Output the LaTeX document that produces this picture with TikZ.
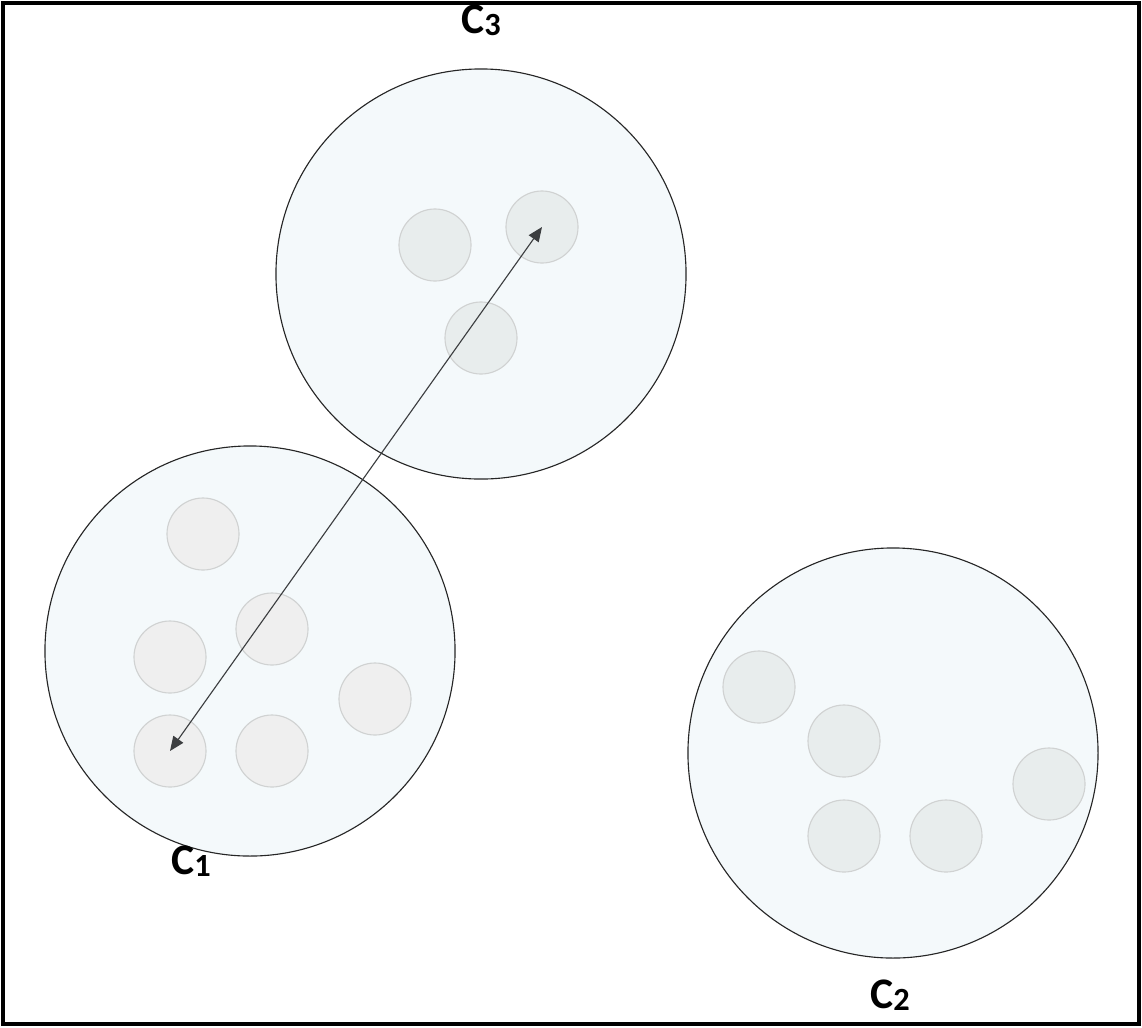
\documentclass[tikz,border=0pt]{standalone}
\usepackage{fontspec}
\setmainfont{Carlito}
\usetikzlibrary{arrows.meta, positioning}

\definecolor{clusterfill}{RGB}{244,249,251}
\definecolor{pointgray}{RGB}{239,239,239}
\definecolor{pointgreen}{RGB}{232,237,237}
\definecolor{pointline}{RGB}{208,210,210}
\definecolor{arrowgray}{RGB}{60,62,64}

\tikzset{
    cluster/.style={circle, draw=black!85, line width=0.8pt, fill=clusterfill, minimum size=10.25cm, inner sep=0pt},
    point/.style={circle, draw=pointline, line width=0.8pt, fill=#1, minimum size=1.8cm, inner sep=0pt},
    clabel/.style={font=\fontsize{31}{33}\selectfont\bfseries, inner sep=0pt}
}

\newcommand{\clname}[1]{C{\fontsize{23}{26}\selectfont\raisebox{-0.15ex}{#1}}}

\begin{document}
\begin{tikzpicture}[x=0.025cm, y=-0.025cm]
    \useasboundingbox (0,0) rectangle (1142,1027);
    \draw[line width=2.2pt] (3,3) rectangle (1139,1024);

    % clusters
    \node[cluster] (c3) at (481, 274) {};
    \node[cluster] (c1) at (250, 651) {};
    \node[cluster] (c2) at (893, 753) {};

    % points of C3
    \node[point=pointgreen] (p31) at (435, 245) {};
    \node[point=pointgreen] (p32) at (542, 227) {};
    \node[point=pointgreen] (p33) at (481, 338) {};

    % points of C1
    \node[point=pointgray] (p11) at (203, 534) {};
    \node[point=pointgray] (p12) at (272, 629) {};
    \node[point=pointgray] (p13) at (170, 657) {};
    \node[point=pointgray] (p14) at (375, 699) {};
    \node[point=pointgray] (p15) at (170, 751) {};
    \node[point=pointgray] (p16) at (272, 751) {};

    % points of C2
    \node[point=pointgreen] (p21) at (759, 687) {};
    \node[point=pointgreen] (p22) at (844, 741) {};
    \node[point=pointgreen] (p23) at (1049, 784) {};
    \node[point=pointgreen] (p24) at (844, 836) {};
    \node[point=pointgreen] (p25) at (946, 836) {};

    \draw[arrowgray, line width=0.8pt, {Triangle[length=0.36cm, width=0.3cm]}-{Triangle[length=0.36cm, width=0.3cm]}]
        (p15.center) -- (p32.center);

    % labels
    \node[clabel] (l3) at (481, 20) {\clname{3}};
    \node[clabel] (l1) at (191, 861) {\clname{1}};
    \node[clabel] (l2) at (890, 995) {\clname{2}};
\end{tikzpicture}
\end{document}
